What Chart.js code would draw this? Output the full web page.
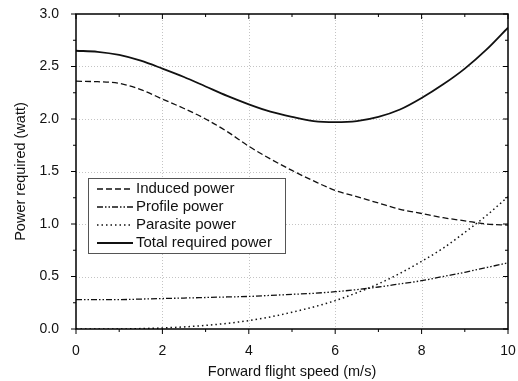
<!DOCTYPE html>
<html>
<head>
<meta charset="utf-8">
<script src="https://cdn.jsdelivr.net/npm/chart.js@4/dist/chart.umd.min.js"></script>
<style>
  html, body { margin: 0; padding: 0; background: #fff; }
  #wrap { width: 518px; height: 381px; }
</style>
</head>
<body>
<div id="wrap"><canvas id="c"></canvas></div>
<script>
// forward speed (m/s) at 0.5 m/s steps
const speed = [0, 0.5, 1, 1.5, 2, 2.5, 3, 3.5, 4, 4.5, 5, 5.5, 6, 6.5, 7, 7.5, 8, 8.5, 9, 9.5, 10];
const inducedPower = [2.36, 2.355, 2.34, 2.28, 2.19, 2.10, 2.00, 1.88, 1.74, 1.62, 1.51, 1.41, 1.32, 1.26, 1.20, 1.14, 1.10, 1.06, 1.03, 1.00, 0.99];
const profilePower = [0.28, 0.28, 0.28, 0.285, 0.29, 0.295, 0.30, 0.305, 0.31, 0.32, 0.33, 0.34, 0.355, 0.375, 0.40, 0.43, 0.46, 0.50, 0.54, 0.585, 0.63];
const parasitePower = [0, 0, 0, 0.004, 0.01, 0.02, 0.034, 0.054, 0.08, 0.115, 0.16, 0.21, 0.27, 0.345, 0.43, 0.53, 0.645, 0.77, 0.92, 1.08, 1.26];
const totalPower = [2.65, 2.64, 2.61, 2.555, 2.48, 2.40, 2.31, 2.22, 2.14, 2.07, 2.02, 1.98, 1.97, 1.98, 2.02, 2.09, 2.20, 2.33, 2.48, 2.66, 2.87];

const seriesNames = ['Induced power', 'Profile power', 'Parasite power', 'Total required power'];
const seriesDash = [[6, 3], [6, 2, 1.5, 2, 1.5, 2], [1.5, 3], []];
const seriesWidth = [1.3, 1.3, 1.5, 1.8];

const FONT = "'Liberation Sans', Arial, sans-serif";

function pts(ys) {
  return speed.map((x, i) => ({ x, y: ys[i] }));
}

const allSeries = [inducedPower, profilePower, parasitePower, totalPower];

// dotted grid, mirrored frame, minor ticks, legend box
const framePlugin = {
  id: 'frame',
  beforeDatasetsDraw(chart) {
    const { ctx, chartArea: a, scales: { x, y } } = chart;
    ctx.save();
    ctx.strokeStyle = '#c4c4c4';
    ctx.lineWidth = 1;
    ctx.setLineDash([1, 2]);
    [2, 4, 6, 8].forEach(v => {
      const px = Math.round(x.getPixelForValue(v)) + 0.5;
      ctx.beginPath(); ctx.moveTo(px, a.top); ctx.lineTo(px, a.bottom); ctx.stroke();
    });
    [0.5, 1, 1.5, 2, 2.5].forEach(v => {
      const py = Math.round(y.getPixelForValue(v)) + 0.5;
      ctx.beginPath(); ctx.moveTo(a.left, py); ctx.lineTo(a.right, py); ctx.stroke();
    });
    ctx.restore();
  },
  afterDraw(chart) {
    const { ctx, chartArea: a, scales: { x, y } } = chart;
    ctx.save();
    ctx.strokeStyle = '#000';
    ctx.setLineDash([]);
    ctx.lineWidth = 1.5;
    ctx.strokeRect(a.left, a.top, a.right - a.left, a.bottom - a.top);
    ctx.lineWidth = 1;
    // x ticks: bottom outside, top inside
    for (let v = 0; v <= 10; v += 1) {
      const px = x.getPixelForValue(v);
      const len = v % 2 === 0 ? 5 : 3;
      ctx.beginPath(); ctx.moveTo(px, a.bottom); ctx.lineTo(px, a.bottom + len); ctx.stroke();
      ctx.beginPath(); ctx.moveTo(px, a.top); ctx.lineTo(px, a.top + len); ctx.stroke();
    }
    // y ticks: left outside, right inside
    for (let i = 0; i <= 12; i++) {
      const v = i * 0.25;
      const py = y.getPixelForValue(v);
      const len = i % 2 === 0 ? 5 : 3;
      ctx.beginPath(); ctx.moveTo(a.left - len, py); ctx.lineTo(a.left, py); ctx.stroke();
      ctx.beginPath(); ctx.moveTo(a.right - len, py); ctx.lineTo(a.right, py); ctx.stroke();
    }

    // legend
    const bx = 88.5, by = 178.5, bw = 197, bh = 75;
    ctx.fillStyle = '#fff';
    ctx.fillRect(bx, by, bw, bh);
    ctx.strokeStyle = '#555';
    ctx.lineWidth = 1;
    ctx.strokeRect(bx, by, bw, bh);
    ctx.font = '15px ' + FONT;
    ctx.textBaseline = 'middle';
    ctx.fillStyle = '#111';
    seriesNames.forEach((name, i) => {
      const ry = 189 + i * 18;
      ctx.strokeStyle = '#111';
      ctx.lineWidth = seriesWidth[i];
      ctx.setLineDash(seriesDash[i]);
      ctx.beginPath(); ctx.moveTo(97, ry); ctx.lineTo(133, ry); ctx.stroke();
      ctx.setLineDash([]);
      ctx.fillText(name, 136, ry);
    });
    ctx.restore();
  }
};

new Chart(document.getElementById('c'), {
  type: 'line',
  data: {
    datasets: allSeries.map((ys, i) => ({
      label: seriesNames[i],
      data: pts(ys),
      borderColor: '#111',
      borderWidth: seriesWidth[i],
      borderDash: seriesDash[i],
      pointRadius: 0,
      cubicInterpolationMode: 'monotone',
      fill: false,
    })),
  },
  options: {
    responsive: true,
    maintainAspectRatio: false,
    animation: false,
    layout: { padding: { left: 12, right: 10, top: 14, bottom: 0 } },
    plugins: { legend: { display: false }, tooltip: { enabled: false } },
    scales: {
      x: {
        type: 'linear',
        min: 0, max: 10,
        afterFit: (s) => { s.height = 52; s.paddingLeft = 0; s.paddingRight = 0; },
        ticks: { stepSize: 2, color: '#111', font: { family: FONT, size: 14 }, padding: 6 },
        grid: { display: false },
        border: { display: false },
        title: { display: true, text: 'Forward flight speed (m/s)', color: '#111', font: { family: FONT, size: 14.5 }, padding: { top: 6, bottom: 0 } },
      },
      y: {
        min: 0, max: 3,
        afterFit: (s) => { s.width = 64; s.paddingTop = 0; s.paddingBottom = 0; },
        ticks: { stepSize: 0.5, color: '#111', font: { family: FONT, size: 14 }, padding: 9, callback: (v) => v.toFixed(1) },
        grid: { display: false },
        border: { display: false },
        title: { display: true, text: 'Power required (watt)', color: '#111', font: { family: FONT, size: 14.5 }, padding: { top: 0, bottom: 4 } },
      },
    },
  },
  plugins: [framePlugin],
});
</script>
</body>
</html>
